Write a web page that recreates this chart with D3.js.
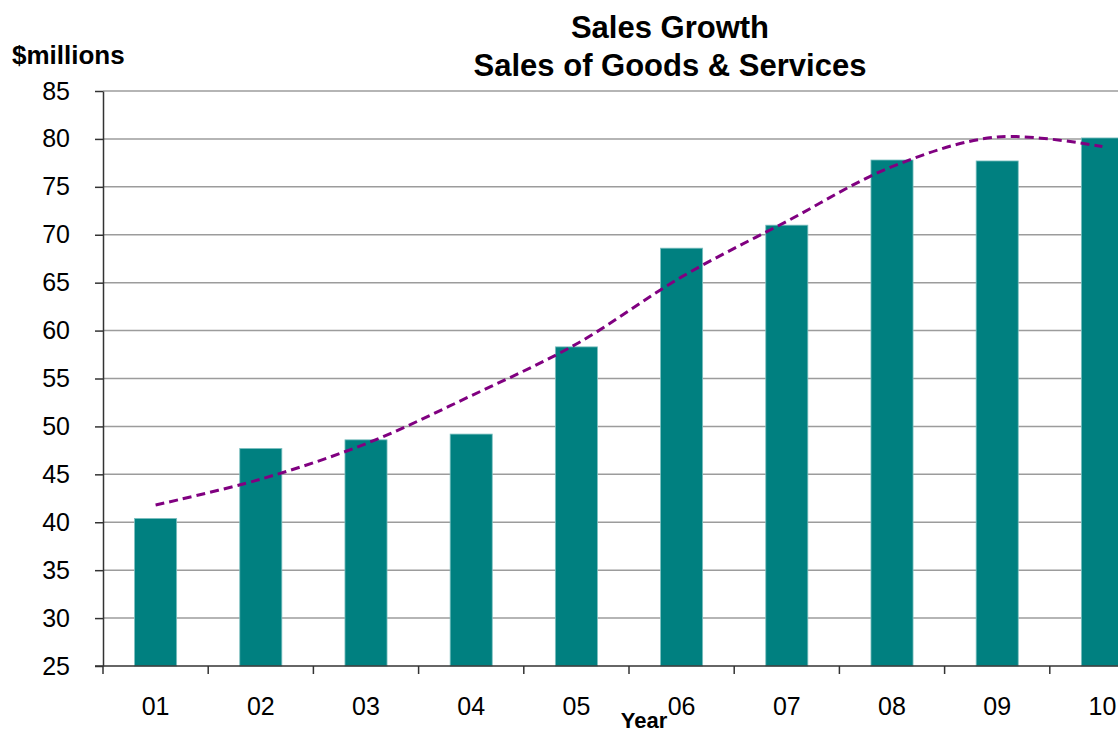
<!DOCTYPE html>
<html>
<head>
<meta charset="utf-8">
<script src="https://cdn.jsdelivr.net/npm/d3@7"></script>
<style>
  body { margin: 0; background: #fff; overflow: hidden; }
  svg { display: block; font-family: "Liberation Sans", Arial, sans-serif; }
</style>
</head>
<body>
<div id="chart"></div>
<script>
const years = ["01", "02", "03", "04", "05", "06", "07", "08", "09", "10"];
const sales = [40.4, 47.7, 48.6, 49.2, 58.3, 68.6, 71.0, 77.8, 77.7, 80.1];
const trend = [41.8, 44.5, 48.2, 53.2, 58.6, 65.6, 71.4, 77.1, 80.2, 79.2];
const yTicks = [25, 30, 35, 40, 45, 50, 55, 60, 65, 70, 75, 80, 85];

const width = 1118, height = 734;
const margin = { top: 91, left: 103, bottom: 68 };
const plotH = height - margin.top - margin.bottom; // 575
const step = 105.2;

const svg = d3.select("#chart").append("svg")
  .attr("width", width)
  .attr("height", height);

const x = d3.scaleBand()
  .domain(years)
  .range([margin.left, margin.left + step * years.length])
  .padding(0);

const y = d3.scaleLinear()
  .domain([25, 85])
  .range([margin.top + plotH, margin.top]);

// gridlines
svg.append("g")
  .selectAll("line")
  .data(yTicks.slice(1))
  .join("line")
  .attr("x1", margin.left)
  .attr("x2", x.range()[1])
  .attr("y1", d => y(d))
  .attr("y2", d => y(d))
  .attr("stroke", "#9c9c9c")
  .attr("stroke-width", 1.5);

// bars
const barW = x.bandwidth() * 0.4;
svg.append("g")
  .selectAll("rect")
  .data(sales)
  .join("rect")
  .attr("x", (d, i) => x(years[i]) + (x.bandwidth() - barW) / 2)
  .attr("y", d => y(d))
  .attr("width", barW)
  .attr("height", d => y(25) - y(d))
  .attr("fill", "#008080")
  .attr("stroke", "#7dc0c0")
  .attr("stroke-width", 0.8);

// trend line
const line = d3.line()
  .x((d, i) => x(years[i]) + x.bandwidth() / 2)
  .y(d => y(d))
  .curve(d3.curveCatmullRom);

svg.append("path")
  .datum(trend)
  .attr("d", line)
  .attr("fill", "none")
  .attr("stroke", "#800080")
  .attr("stroke-width", 3)
  .attr("stroke-dasharray", "9,5");

// y axis
const yAxis = svg.append("g")
  .attr("transform", "translate(" + margin.left + ",0)")
  .call(d3.axisLeft(y).tickValues(yTicks).tickSize(8).tickPadding(25).tickSizeOuter(0));
yAxis.select(".domain").attr("stroke", "#333").attr("stroke-width", 1.5);
yAxis.selectAll(".tick line").attr("stroke", "#333").attr("stroke-width", 1.5);
yAxis.selectAll(".tick text")
  .attr("font-size", 25)
  .attr("fill", "#000")
  .attr("font-family", "Liberation Sans, Arial, sans-serif");

// x axis with ticks at category boundaries
const bounds = years.map(d => x(d)).concat([x.range()[1]]);
const xAxis = svg.append("g")
  .attr("transform", "translate(0," + y(25) + ")");
xAxis.append("line")
  .attr("x1", margin.left - 8)
  .attr("x2", x.range()[1])
  .attr("stroke", "#333")
  .attr("stroke-width", 1.5);
xAxis.selectAll(".tk")
  .data(bounds)
  .join("line")
  .attr("class", "tk")
  .attr("x1", d => d)
  .attr("x2", d => d)
  .attr("y1", 0)
  .attr("y2", 8)
  .attr("stroke", "#333")
  .attr("stroke-width", 1.5);
xAxis.selectAll("text")
  .data(years)
  .join("text")
  .attr("x", d => x(d) + x.bandwidth() / 2)
  .attr("y", 49)
  .attr("text-anchor", "middle")
  .attr("font-size", 25)
  .text(d => d);

// titles
svg.append("text")
  .attr("x", 670).attr("y", 38)
  .attr("text-anchor", "middle")
  .attr("font-size", 31)
  .attr("font-weight", "bold")
  .text("Sales Growth");
svg.append("text")
  .attr("x", 670).attr("y", 76)
  .attr("text-anchor", "middle")
  .attr("font-size", 31)
  .attr("font-weight", "bold")
  .text("Sales of Goods & Services");

svg.append("text")
  .attr("x", 12).attr("y", 64)
  .attr("font-size", 26)
  .attr("font-weight", "bold")
  .text("$millions");

svg.append("text")
  .attr("x", 644).attr("y", 728)
  .attr("text-anchor", "middle")
  .attr("font-size", 22)
  .attr("font-weight", "bold")
  .text("Year");
</script>
</body>
</html>
